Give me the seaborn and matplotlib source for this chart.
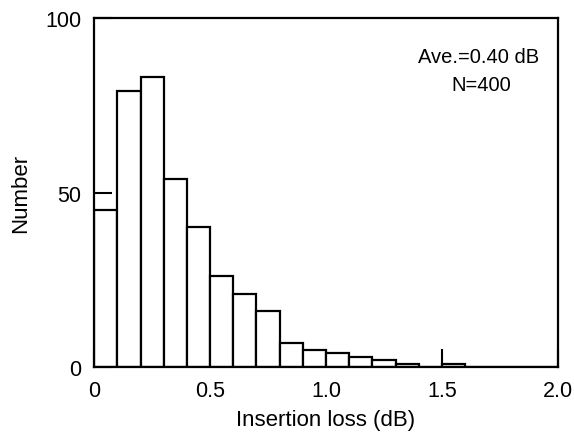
import numpy as np
import pandas as pd
import matplotlib
matplotlib.use("Agg")
import matplotlib.pyplot as plt
import seaborn as sns

# counts per 0.1 dB bin
binLeft = np.round(np.arange(0, 2.0, 0.1), 2)
counts = [45, 79, 83, 54, 40, 26, 21, 16, 7, 5, 4, 3, 2, 1, 0, 1, 0, 0, 0, 0]
xTicks = [0, 0.5, 1.0, 1.5, 2.0]
xTickLabels = ["0", "0.5", "1.0", "1.5", "2.0"]
yTicks = [0, 50, 100]
yTickLabels = ["0", "50", "100"]

sns.set_style("ticks")
plt.rcParams['font.family'] = ['Liberation Sans', 'DejaVu Sans']
plt.rcParams['text.color'] = "black"
plt.rcParams['axes.labelcolor'] = "black"

df = pd.DataFrame({"loss": binLeft + 0.05, "count": counts})

fig = plt.figure(figsize=(5.74, 4.35), dpi=100)
ax = fig.add_axes([0.164, 0.154, 0.808, 0.802])
sns.histplot(data=df, x="loss", weights="count", binwidth=0.1, binrange=(0, 2.0),
             color="white", edgecolor="black", linewidth=1.6, alpha=1, ax=ax)

ax.set_xlim(0, 2.0)
ax.set_ylim(0, 100)
ax.set_xticks(xTicks)
ax.set_xticklabels(xTickLabels)
ax.set_yticks(yTicks)
ax.set_yticklabels(yTickLabels)
ax.tick_params(direction="in", length=13, width=1.5, labelsize=15.5, pad=9, colors="black")
for s in ax.spines.values():
    s.set_visible(True)
    s.set_linewidth(1.6)
    s.set_color("black")

ax.set_xlabel("Insertion loss (dB)", fontsize=16, labelpad=6, color="black")
ax.set_ylabel("Number", fontsize=16, labelpad=10, color="black")

ax.text(0.828, 0.891, "Ave.=0.40 dB", transform=ax.transAxes, ha="center", va="center", fontsize=14.5, color="black")
ax.text(0.835, 0.811, "N=400", transform=ax.transAxes, ha="center", va="center", fontsize=14.5, color="black")

fig.savefig("out.png", dpi=100)
